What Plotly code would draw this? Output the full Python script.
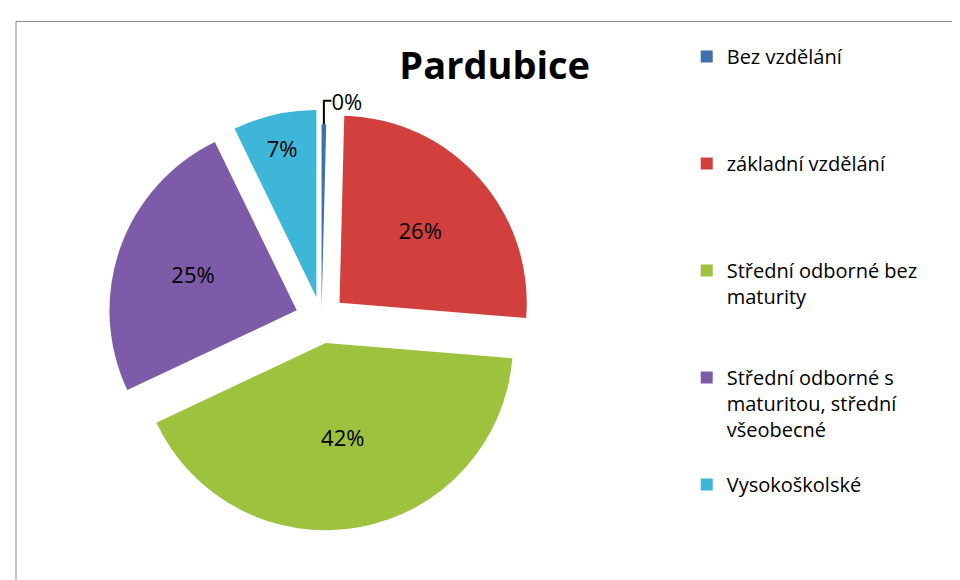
import plotly.graph_objects as go

categories = [
    "Bez vzdělání",
    "základní vzdělání",
    "Střední odborné bez<br>maturity",
    "Střední odborné s<br>maturitou, střední<br>všeobecné",
    "Vysokoškolské",
]
values = [0.4, 25.9, 41.7, 24.8, 7.2]
colors = ["#3F6FAE", "#D2403E", "#9CC23E", "#7E5BA8", "#3EB6D8"]
pulls = [0.04, 0.13, 0.13, 0.14, 0.12]
text_positions = ["outside", "inside", "inside", "inside", "inside"]

# legend labels padded to equal height (4 lines) like the reference legend layout
legend_lines = 4
display_labels = []
for i, c in enumerate(categories):
    n = c.count("<br>") + 1
    pad = (legend_lines - n) if i < len(categories) - 1 else 0
    display_labels.append(c + "<br> " * pad)

FONT = "Open Sans"

fig = go.Figure(
    go.Pie(
        labels=display_labels,
        values=values,
        sort=False,
        direction="clockwise",
        rotation=0,
        pull=pulls,
        marker=dict(colors=colors, line=dict(width=0)),
        textinfo="percent",
        texttemplate="%{percent:.0%}",
        textposition=text_positions,
        insidetextorientation="horizontal",
        textfont=dict(family=FONT, size=22, color="black"),
        domain=dict(x=[0.10, 0.553], y=[0.06, 0.825]),
        hoverinfo="label+percent",
    )
)

fig.update_layout(
    width=960,
    height=580,
    margin=dict(l=0, r=0, t=0, b=0),
    paper_bgcolor="white",
    title=dict(
        text="<b>Pardubice</b>",
        x=0.507,
        xanchor="center",
        y=0.90,
        yanchor="middle",
        font=dict(family=FONT, size=38, color="black"),
    ),
    legend=dict(
        x=0.707,
        y=0.948,
        xanchor="left",
        yanchor="top",
        valign="top",
        font=dict(family=FONT, size=20, color="black"),
        itemwidth=30,
        bgcolor="rgba(0,0,0,0)",
    ),
    shapes=[
        dict(
            type="rect",
            xref="paper",
            yref="paper",
            x0=8 / 960,
            x1=955 / 960,
            y0=-0.05,
            y1=1 - 14 / 580,
            line=dict(color="#8A8A8A", width=1),
            fillcolor="rgba(0,0,0,0)",
        )
    ],
)

fig.write_html("out.html")
